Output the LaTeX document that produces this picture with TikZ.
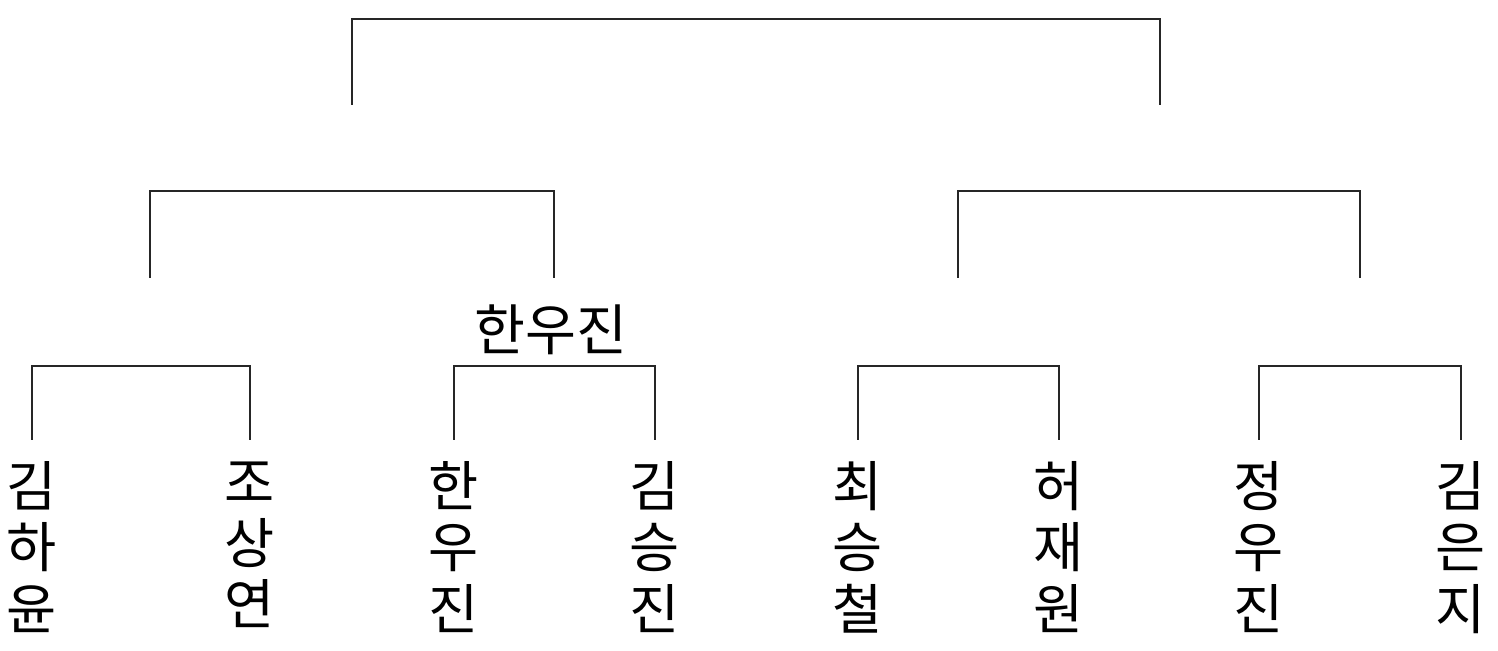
\documentclass[tikz,border=0pt]{standalone}
\usepackage{fontspec}
\newfontfamily\cjk{Noto Sans CJK KR}
\usetikzlibrary{positioning}

\begin{document}
\begin{tikzpicture}[x=0.02cm,y=-0.02cm,
  player/.style={anchor=north,align=center,inner xsep=0pt,inner ysep=12pt,
    font=\cjk\fontsize{31}{35}\selectfont},
  winner/.style={inner sep=0pt,font=\cjk\fontsize{31.5}{34}\selectfont},
  bracket/.style={draw=black!85,line width=0.9pt}]
\useasboundingbox (0,0) rectangle (1498,651);
% players
\node[player] (p1) at (32,440) {김\\하\\윤};
\node[player] (p2) at (250,440) {조\\상\\연};
\node[player] (p3) at (454,440) {한\\우\\진};
\node[player] (p4) at (655,440) {김\\승\\진};
\node[player] (p5) at (858,440) {최\\승\\철};
\node[player] (p6) at (1059,440) {허\\재\\원};
\node[player] (p7) at (1259,440) {정\\우\\진};
\node[player] (p8) at (1461,440) {김\\은\\지};
% first round
\coordinate (m1) at (141,366);
\coordinate (m2) at (554,366);
\coordinate (m3) at (958,366);
\coordinate (m4) at (1360,366);
\node[winner] (w2) at (551,330) {한우진};
\draw[bracket] (p1.north) |- (m1) -| (p2.north);
\draw[bracket] (p3.north) |- (m2) -| (p4.north);
\draw[bracket] (p5.north) |- (m3) -| (p6.north);
\draw[bracket] (p7.north) |- (m4) -| (p8.north);
% semi finals
\coordinate (s1) at (150,278);
\coordinate (s2) at (554,278);
\coordinate (s3) at (958,278);
\coordinate (s4) at (1360,278);
\coordinate (h1) at (352,191);
\coordinate (h2) at (1159,191);
\draw[bracket] (s1) |- (h1) -| (s2);
\draw[bracket] (s3) |- (h2) -| (s4);
% final
\coordinate (f1) at (352,105);
\coordinate (f2) at (1160,105);
\coordinate (top) at (756,19);
\draw[bracket] (f1) |- (top) -| (f2);
\end{tikzpicture}
\end{document}
